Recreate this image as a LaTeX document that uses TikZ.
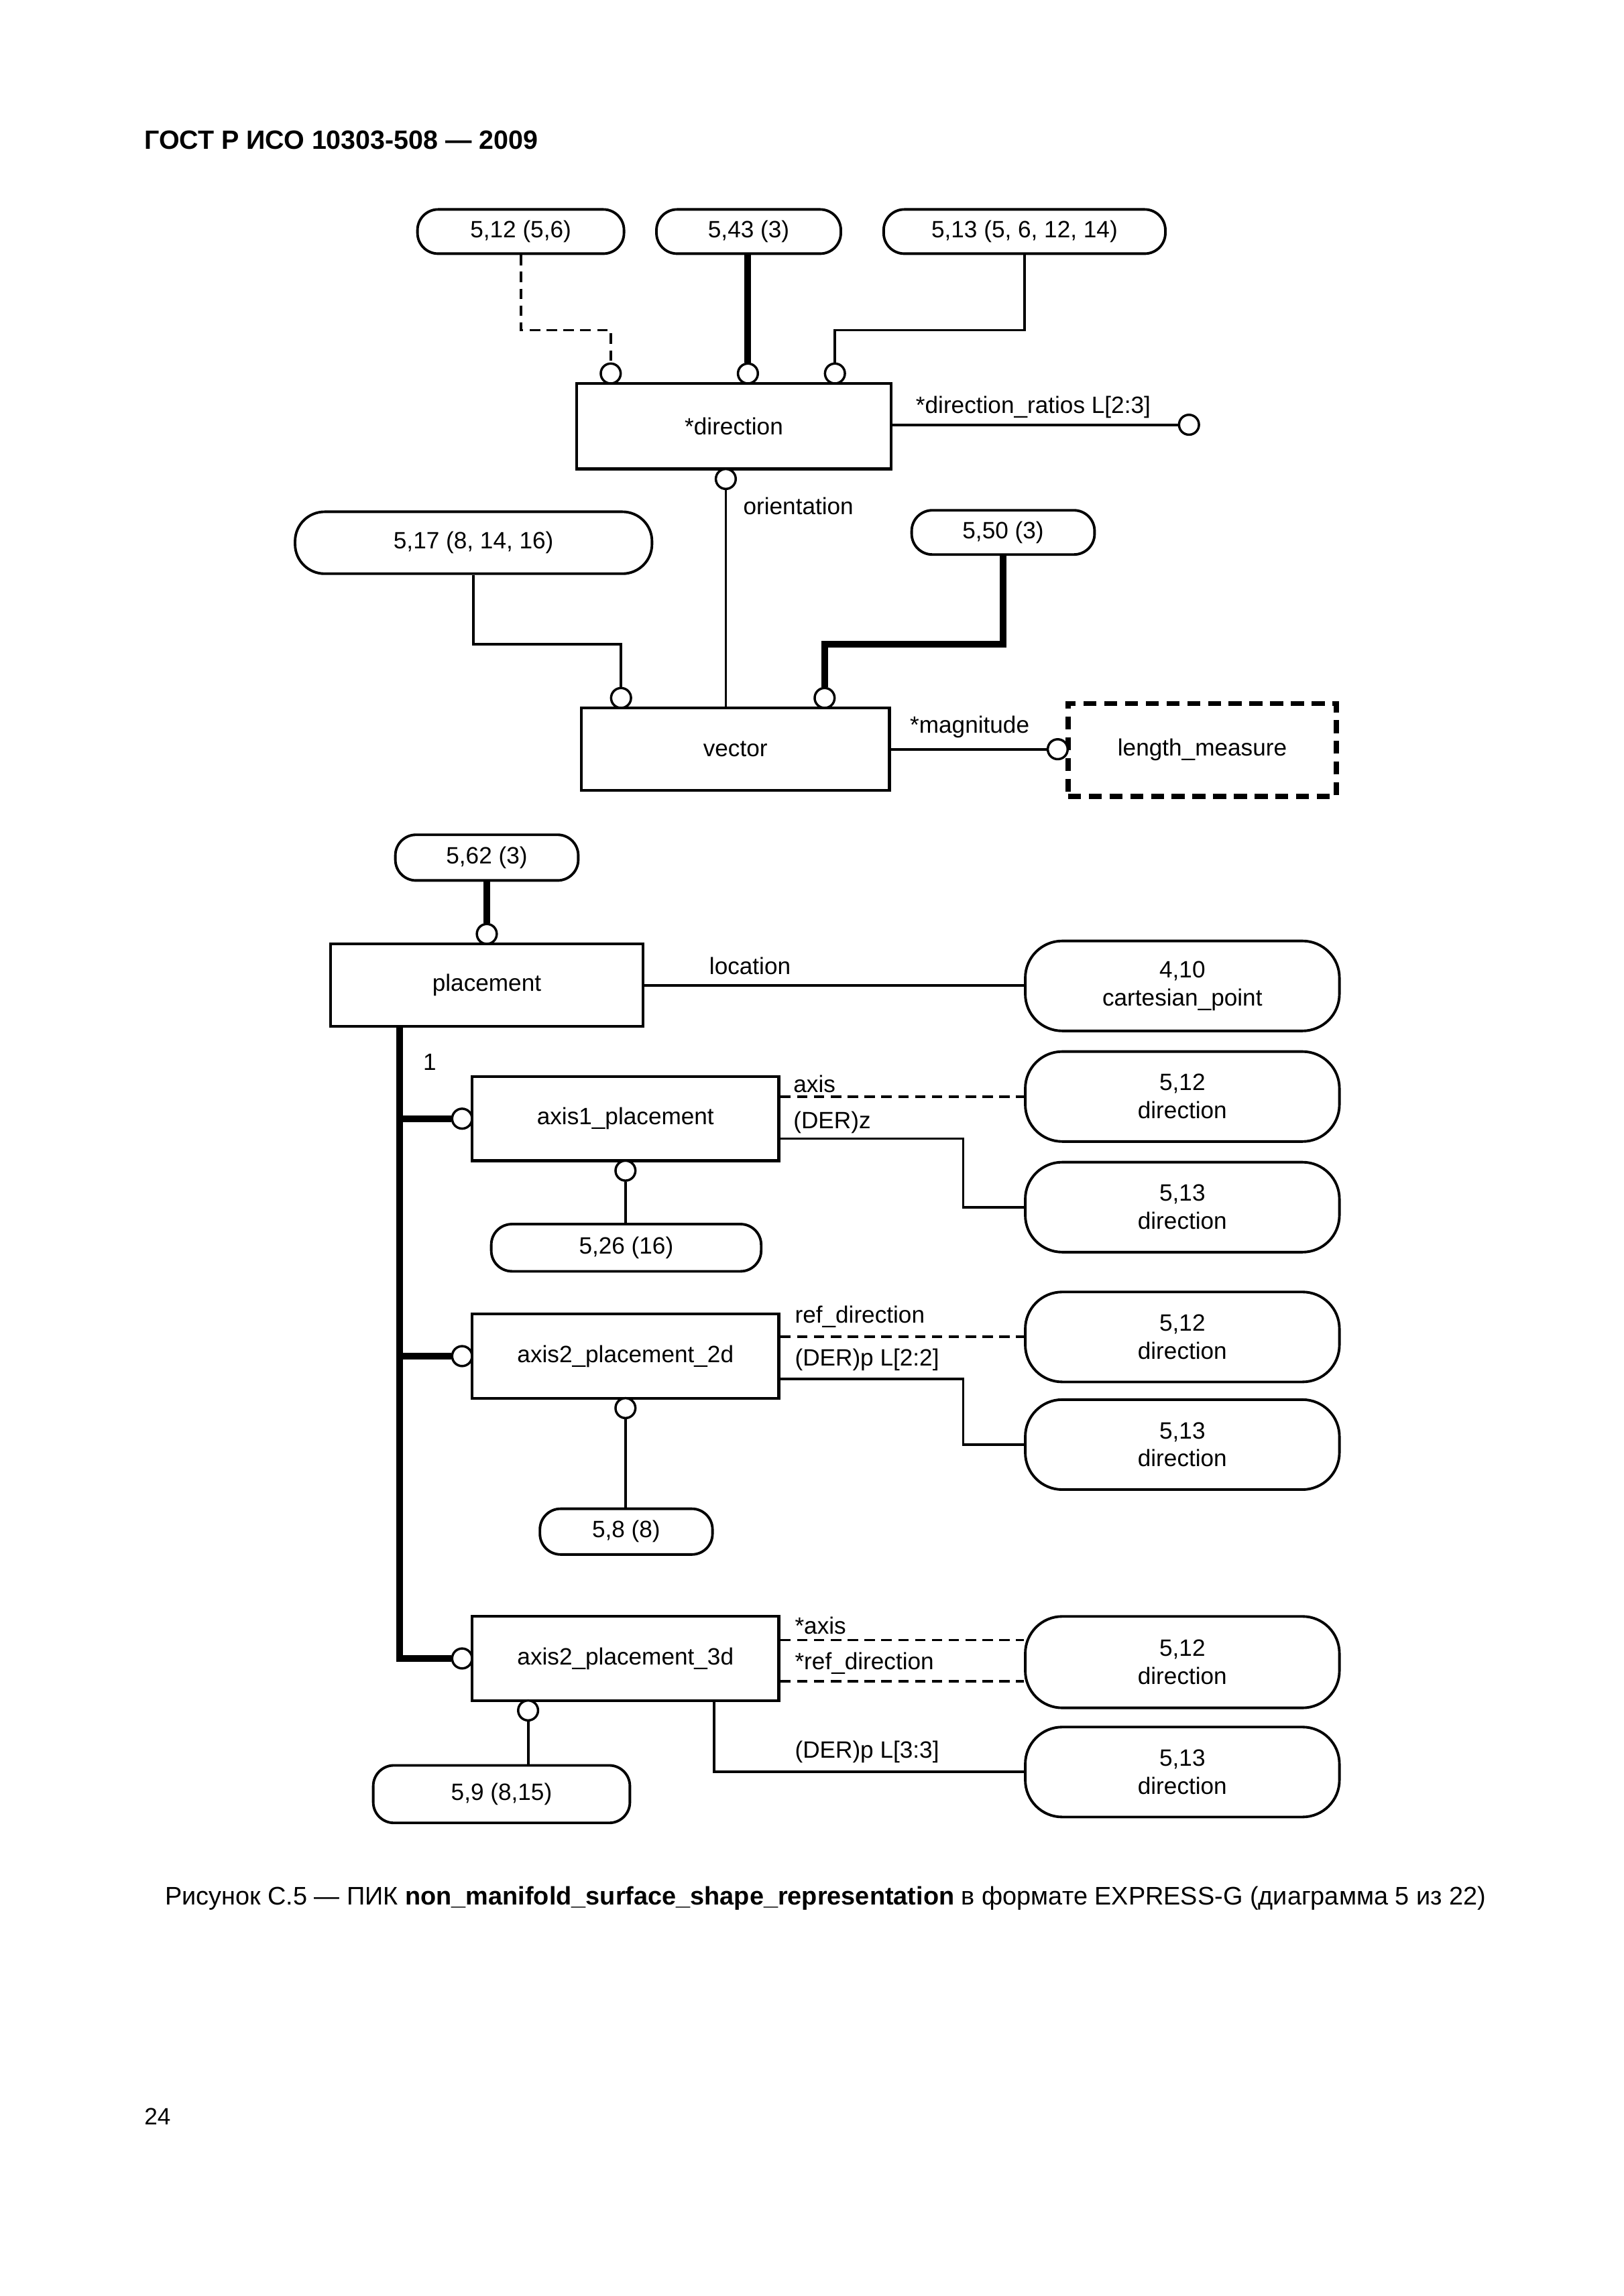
\documentclass[tikz,border=0pt]{standalone}
\usepackage{fontspec}
\setmainfont{Liberation Sans}
\usepackage{tikz}
\tikzstyle{every path}=[line width=1pt]
\tikzstyle{every node}=[font=\fontsize{9.1}{10.8}\selectfont, inner sep=0pt]
\tikzstyle{entity}=[draw, rectangle, line width=1.1pt, minimum width=4.16cm, minimum height=1.14cm]
\tikzstyle{refbox}=[draw, rounded corners=0.28cm, line width=1pt, align=center]
\tikzstyle{bigref}=[refbox, rounded corners=0.5cm, minimum width=4.26cm, minimum height=1.22cm]
\tikzstyle{ring}=[draw, circle, fill=white, minimum size=0.27cm, line width=0.9pt]
\tikzstyle{thicklink}=[line width=2.6pt]
\tikzstyle{dashlink}=[dash pattern=on 4pt off 2.5pt]
\tikzstyle{thinlink}=[line width=0.7pt]
\tikzstyle{lbl}=[anchor=west]

\begin{document}
        \begin{tikzpicture}[x=0.02cm, y=-0.02cm]
            \useasboundingbox (0,0) rectangle (1100.45,1556.8);
            \node[lbl, font=\bfseries\fontsize{10.2}{12}\selectfont] (title) at (97,95) {ГОСТ Р ИСО 10303-508 — 2009};

            \node[refbox, minimum width=2.8cm, minimum height=0.6cm] (ref512top) at (353,157) {5,12 (5,6)};
            \node[refbox, minimum width=2.5cm, minimum height=0.6cm] (ref543) at (507.5,157) {5,43 (3)};
            \node[refbox, minimum width=3.82cm, minimum height=0.6cm] (ref513top) at (694.5,157) {5,13 (5, 6, 12, 14)};
            \node[entity, minimum width=4.26cm, minimum height=1.16cm] (direction) at (497.5,289) {*direction};
            \node[ring] (dirA) at (414,253.25) {};
            \node[ring] (dirB) at (507,253.25) {};
            \node[ring] (dirC) at (566,253.25) {};
            \node[ring] (ratiosEnd) at (806,288) {};
            \node[ring] (dirD) at (492,324.75) {};
            \draw[dashlink] (ref512top.south) -- ++(0,51) -| (dirA.north);
            \draw[thicklink] (ref543.south -| dirB) -- (dirB.north);
            \draw (ref513top.south) -- ++(0,51) -| (dirC.north);
            \draw (direction.east |- ratiosEnd) -- (ratiosEnd.west);
            \node[lbl] (ratiosLbl) at (620,276) {*direction\_ratios L[2:3]};

            \node[refbox, rounded corners=0.4cm, minimum width=4.84cm, minimum height=0.84cm] (ref517) at (321,368) {5,17 (8, 14, 16)};
            \node[refbox, minimum width=2.48cm, minimum height=0.6cm] (ref550) at (680,361) {5,50 (3)};
            \node[entity, minimum width=4.18cm, minimum height=1.12cm] (vector) at (498.5,508) {vector};
            \node[entity, dash pattern=on 5pt off 3pt, line width=2pt, minimum width=3.64cm, minimum height=1.26cm] (lenmeas) at (815,508.5) {length\_measure};
            \node[ring] (vecA) at (421,473.25) {};
            \node[ring] (vecB) at (559,473.25) {};
            \node[ring] (lenA) at (717,508) {};
            \draw[thinlink] (dirD.south) -- (vector.north -| dirD);
            \node[lbl] (orientLbl) at (503,343) {orientation};
            \draw (ref517.south) -- ++(0,47) -| (vecA.north);
            \draw[thicklink] (ref550.south) -- ++(0,60) -| (vecB.north);
            \draw (vector.east) -- (lenA.west);
            \node[lbl] (magLbl) at (616,493) {*magnitude};

            \node[refbox, minimum width=2.48cm, minimum height=0.62cm] (ref562) at (330,581.5) {5,62 (3)};
            \node[entity, minimum width=4.24cm, minimum height=1.12cm] (placement) at (330,668) {placement};
            \node[ring] (plA) at (330,633.25) {};
            \node[bigref] (cartpt) at (801.5,668.5) {4,10\\cartesian\_point};
            \draw[thicklink] (ref562.south -| plA) -- (plA.north);
            \draw (placement.east) -- (placement.east -| cartpt.west);
            \node[lbl] (locLbl) at (480,655) {location};

            \node[entity] (ax1) at (424,758.5) {axis1\_placement};
            \node[entity] (ax2) at (424,919.5) {axis2\_placement\_2d};
            \node[entity] (ax3) at (424,1124.5) {axis2\_placement\_3d};
            \node[ring] (ax1ring) at (313.25,758.5) {};
            \node[ring] (ax2ring) at (313.25,919.5) {};
            \node[ring] (ax3ring) at (313.25,1124.5) {};
            \node[ring] (ax1bot) at (424,793.75) {};
            \node[ring] (ax2bot) at (424,954.75) {};
            \node[ring] (ax3bot) at (358,1159.75) {};
            \coordinate (trunk) at ([xshift=0.96cm]placement.south west);
            \draw[thicklink] (trunk) |- (ax3ring.west);
            \draw[thicklink] (trunk |- ax1ring) -- (ax1ring.west);
            \draw[thicklink] (trunk |- ax2ring) -- (ax2ring.west);
            \node[lbl] (oneLbl) at (286,720) {1};

            \node[bigref] (ref512a) at (801.5,743.5) {5,12\\direction};
            \node[bigref] (ref513a) at (801.5,818.5) {5,13\\direction};
            \node[refbox, minimum width=3.66cm, minimum height=0.64cm] (ref526) at (424.5,846) {5,26 (16)};
            \draw[dashlink] (ref512a.west -| ax1.east) -- (ref512a.west);
            \draw ([yshift=-0.27cm]ax1.east) -- ++(124,0) |- (ref513a.west);
            \draw (ax1bot.south) -- (ref526.north -| ax1bot);
            \node[lbl] (axisLbl) at (537,735) {axis};
            \node[lbl] (derzLbl) at (537,761) {(DER)z};

            \node[bigref] (ref512b) at (801.5,906.5) {5,12\\direction};
            \node[bigref] (ref513b) at (801.5,979.5) {5,13\\direction};
            \node[refbox, minimum width=2.34cm, minimum height=0.62cm] (ref58) at (424.5,1038.5) {5,8 (8)};
            \draw[dashlink] (ref512b.west -| ax2.east) -- (ref512b.west);
            \draw ([yshift=-0.31cm]ax2.east) -- ++(124,0) |- (ref513b.west);
            \draw (ax2bot.south) -- (ref58.north -| ax2bot);
            \node[lbl] (refdirLbl) at (538,893) {ref\_direction};
            \node[lbl] (derpTwoLbl) at (538,922) {(DER)p L[2:2]};

            \node[bigref, minimum height=1.24cm] (ref512c) at (801.5,1127) {5,12\\direction};
            \node[bigref] (ref513c) at (801.5,1201.5) {5,13\\direction};
            \node[refbox, minimum width=3.48cm, minimum height=0.78cm] (ref59) at (340,1216.5) {5,9 (8,15)};
            \coordinate (axisEnd) at ([yshift=0.3cm]ref512c.west);
            \coordinate (refdirEnd) at ([yshift=-0.26cm]ref512c.west);
            \draw[dashlink] (axisEnd -| ax3.east) -- (axisEnd);
            \draw[dashlink] (refdirEnd -| ax3.east) -- (refdirEnd);
            \draw ([xshift=1.2cm]ax3.south) |- (ref513c.west);
            \draw (ax3bot.south) -- (ref59.north -| ax3bot);
            \node[lbl] (axisStarLbl) at (538,1102) {*axis};
            \node[lbl] (refdirStarLbl) at (538,1128) {*ref\_direction};
            \node[lbl] (derpThreeLbl) at (538,1188) {(DER)p L[3:3]};

            \node[lbl, font=\fontsize{9.8}{11.5}\selectfont] (caption) at (111,1287) {Рисунок С.5 — ПИК \textbf{non\_manifold\_surface\_shape\_representation} в формате EXPRESS-G (диаграмма 5 из 22)};
            \node[lbl] (pagenum) at (97,1435) {24};
        \end{tikzpicture}
\end{document}
